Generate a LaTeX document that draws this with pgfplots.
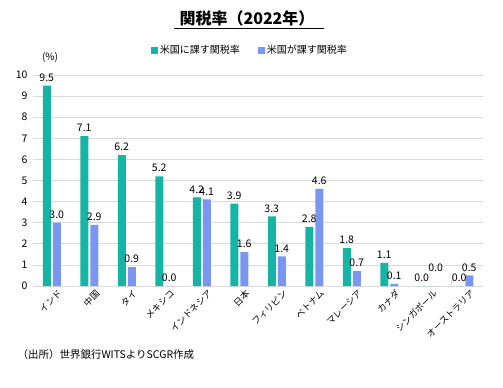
\documentclass[border=0pt]{standalone}
\usepackage{pgfplots}
\pgfplotsset{compat=1.18}
\usepackage{pgfplotstable}
\usepackage{fontspec}
\setmainfont{Noto Sans CJK JP}
\definecolor{cgreen}{RGB}{22,180,164}
\definecolor{cblue}{RGB}{122,150,240}
\definecolor{cgrid}{RGB}{217,217,217}
\pgfplotstableread{
x g b gl bl
0 9.5 3.0 9.5 3.0
1 7.1 2.9 7.1 2.9
2 6.2 0.9 6.2 0.9
3 5.2 0.0 5.2 0.0
4 4.2 4.1 4.2 4.1
5 3.9 1.6 3.9 1.6
6 3.3 1.4 3.3 1.4
7 2.8 4.6 2.8 4.6
8 1.8 0.7 1.8 0.7
9 1.1 0.1 1.1 0.1
10 0.0 0.0 0.0 {}
11 0.0 0.5 0.0 0.5
}\datatable
\begin{document}
\begin{tikzpicture}[x=1bp,y=1bp]
\path[use as bounding box] (0,0) rectangle (503,387);
\begin{axis}[
  at={(33bp,101bp)}, anchor=south west,
  scale only axis, width=450bp, height=211bp,
  xmin=-0.5, xmax=11.5, ymin=0, ymax=10,
  ytick={0,1,...,10},
  xtick={0,...,11},
  xticklabels={インド,中国,タイ,メキシコ,インドネシア,日本,フィリピン,ベトナム,マレーシア,カナダ,シンガポール,オーストラリア},
  xticklabel style={rotate=45, anchor=north east, font=\fontsize{9bp}{11bp}\selectfont, inner sep=0pt, xshift=5bp, yshift=-3bp},
  yticklabel style={font=\fontsize{10.5bp}{12bp}\selectfont, xshift=-2bp},
  /pgf/number format/assume math mode=true,
  axis y line*=left, y axis line style={draw=none},
  axis x line*=bottom, x axis line style={cgrid, line width=0.8pt},
  tick style={draw=none},
  ymajorgrids, grid style={cgrid, line width=0.8pt},
  ybar, bar width=8bp,
  nodes near coords,
  point meta=explicit symbolic,
  every node near coord/.append style={font=\fontsize{10.5bp}{12bp}\selectfont, text=black, inner sep=1pt, yshift=3bp},
  legend style={at={(axis description cs:0.482,1.118)}, anchor=center, draw=none, fill=none,
    font=\fontsize{10bp}{12bp}\selectfont, legend columns=2,
    /tikz/every even column/.append style={column sep=16bp}},
  legend image code/.code={\fill[#1] (0bp,-3.5bp) rectangle (7bp,3.5bp);},
]
\addplot[fill=cgreen, draw=none, bar shift=-5bp] table[x=x, y=g, meta=gl] {\datatable};
\addplot[fill=cblue, draw=none, bar shift=5bp] table[x=x, y=b, meta=bl] {\datatable};
\legend{米国に課す関税率,米国が課す関税率}
\draw[gray!70] (axis cs:10,0.05) ++(5bp,0) -- ++(3bp,10bp);
\node[font=\fontsize{10.5bp}{12bp}\selectfont, anchor=south] at ([xshift=9bp,yshift=10bp]axis cs:10,0.05) {0.0};
\end{axis}
\node[font=\fontsize{16bp}{18bp}\selectfont\bfseries] at (247,369) {関税率（2022年）};
\draw[line width=0.9pt] (174,359) -- (324,359);
\node[font=\fontsize{10bp}{12bp}\selectfont] at (50,330) {(\%)};
\node[font=\fontsize{10.5bp}{12bp}\selectfont, anchor=west] at (14,32) {（出所）世界銀行WITSよりSCGR作成};
\end{tikzpicture}
\end{document}
